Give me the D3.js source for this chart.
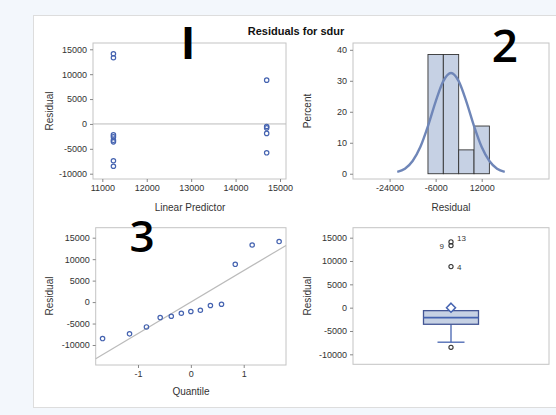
<!DOCTYPE html>
<html>
<head>
<meta charset="utf-8">
<script src="https://cdn.jsdelivr.net/npm/d3@7"></script>
<style>
  body { margin: 0; background: #f3f7fc; }
  svg { display: block; font-family: "Liberation Sans", Arial, sans-serif; }
  .tick text { font-size: 9px; fill: #333; }
  .tick line { stroke: #888; }
  .domain { display: none; }
</style>
</head>
<body>
<svg id="chart" width="556" height="415"></svg>
<script>
var obsId     = [1, 2, 3, 4, 5, 6, 7, 8, 9, 10, 11, 12, 13];
var predicted = [11250, 11250, 14700, 14700, 11250, 14700, 11250, 11250, 11250, 14700, 11250, 14700, 11250];
var residual  = [-2200, -3600, -500, 8800, -7400, -800, -2600, -8500, 13300, -1900, -3300, -5800, 14100];

// histogram bins (percent)
var binEdges = [-9000, -3000, 3000, 9000, 15000];
var binPct   = [38.5, 38.5, 7.7, 15.4];

// fitted normal curve
var curveX = [-21000, -18000, -15000, -12000, -9000, -6000, -3000, 0, 3000, 6000, 9000, 12000, 15000, 18000, 21000];
var curveY = [0.6, 1.6, 4.1, 8.6, 15.4, 23.3, 29.9, 32.5, 29.9, 23.3, 15.4, 8.6, 4.1, 1.6, 0.6];

// normal quantiles for the Q-Q plot and the reference line
var qqQuantile = [-1.67, -1.16, -0.84, -0.58, -0.37, -0.18, 0, 0.18, 0.37, 0.58, 0.84, 1.16, 1.67];
var qqLineX = [-1.8, 1.8];
var qqLineY = [-13200, 13200];

// box plot stats
var boxStats = { whiskerLo: -7400, q1: -3560, median: -2140, q3: -640, whiskerHi: -500, mean: 0 };
var outlierIds = [4, 9, 13];

// tick labels
var residTicks = [-10000, -5000, 0, 5000, 10000, 15000];
var predTicks = [11000, 12000, 13000, 14000, 15000];
var pctTicks = [0, 10, 20, 30, 40];
var histTicks = [-24000, -6000, 12000];
var qqTicks = [-1, 0, 1];

var svg = d3.select('#chart');
var blue = '#4563b0';
var fillBlue = '#c6d1e4';
var plain = function (d) { return String(d); }; // hyphen minus like SAS

// white panel
svg.append('rect').attr('x', 33.5).attr('y', 15.5).attr('width', 540).attr('height', 392)
    .attr('fill', '#fff').attr('stroke', '#ddd');

svg.append('text').attr('x', 296).attr('y', 35).attr('text-anchor', 'middle')
    .attr('font-size', 11).attr('font-weight', 'bold').attr('fill', '#111')
    .text('Residuals for sdur');

function frame(x0, y0, x1, y1) {
    svg.append('rect').attr('x', x0).attr('y', y0).attr('width', x1 - x0).attr('height', y1 - y0)
        .attr('fill', 'none').attr('stroke', '#c4c4c4');
}

function axes(x, y, xt, yt) {
    var yr = y.range(), xr = x.range();
    if (xt) {
        svg.append('g').attr('transform', 'translate(0,' + yr[0] + ')')
            .call(d3.axisBottom(x).tickValues(xt).tickSize(3).tickPadding(3).tickFormat(plain));
    }
    svg.append('g').attr('transform', 'translate(' + xr[0] + ',0)')
        .call(d3.axisLeft(y).tickValues(yt).tickSize(3).tickPadding(3).tickFormat(plain));
}

function label(txt, x, y, rot) {
    var t = svg.append('text').attr('text-anchor', 'middle').attr('font-size', 10).attr('fill', '#333').text(txt);
    if (rot) t.attr('transform', 'translate(' + x + ',' + y + ') rotate(-90)');
    else t.attr('x', x).attr('y', y);
}

function circles(xs, ys, fx, fy, color) {
    svg.append('g').selectAll('circle').data(xs).join('circle')
        .attr('cx', function (d) { return fx(d); })
        .attr('cy', function (d, i) { return fy(ys[i]); })
        .attr('r', 2.2).attr('fill', 'none').attr('stroke', color).attr('stroke-width', 1.2);
}

// ---- 1: residual vs linear predictor
var x1 = d3.scaleLinear().domain([10790, 15135]).range([93, 286]);
var y1 = d3.scaleLinear().domain([-11065, 16265]).range([179, 43]);
frame(93, 43, 286, 179);
svg.append('line').attr('x1', 93).attr('x2', 286).attr('y1', y1(0)).attr('y2', y1(0))
    .attr('stroke', '#bbb');
circles(predicted, residual, x1, y1, blue);
axes(x1, y1, predTicks, residTicks);
label('Residual', 53, 111, true);
label('Linear Predictor', 190, 211);

// ---- 2: histogram
var x2 = d3.scaleLinear().domain([-38300, 38300]).range([353, 549]);
var y2 = d3.scaleLinear().domain([-1.7, 42.2]).range([179, 43]);
frame(353, 43, 549, 179);
svg.append('g').selectAll('rect').data(binPct).join('rect')
    .attr('x', function (d, i) { return x2(binEdges[i]); })
    .attr('width', function (d, i) { return x2(binEdges[i + 1]) - x2(binEdges[i]); })
    .attr('y', function (d) { return y2(d); })
    .attr('height', function (d) { return y2(0) - y2(d); })
    .attr('fill', fillBlue).attr('stroke', '#333').attr('stroke-width', 0.9);
var curveLine = d3.line()
    .x(function (d) { return x2(d); })
    .y(function (d, i) { return y2(curveY[i]); })
    .curve(d3.curveMonotoneX);
svg.append('path').attr('d', curveLine(curveX)).attr('fill', 'none')
    .attr('stroke', '#6f86b8').attr('stroke-width', 2.4);
axes(x2, y2, histTicks, pctTicks);
label('Percent', 311, 111, true);
label('Residual', 451, 211);

// ---- 3: Q-Q plot
var x3 = d3.scaleLinear().domain([-1.8, 1.8]).range([95.7, 286]);
var y3 = d3.scaleLinear().domain([-14660, 17330]).range([365, 227.7]);
frame(95.7, 227.7, 286, 365);
svg.append('line').attr('x1', x3(qqLineX[0])).attr('x2', x3(qqLineX[1]))
    .attr('y1', y3(qqLineY[0])).attr('y2', y3(qqLineY[1])).attr('stroke', '#bbb').attr('stroke-width', 1.2);
var sorted = residual.slice().sort(d3.ascending);
circles(qqQuantile, sorted, x3, y3, blue);
axes(x3, y3, qqTicks, residTicks);
label('Residual', 53, 296, true);
label('Quantile', 191, 395);

// ---- 4: box plot
var x4 = d3.scaleLinear().domain([0, 1]).range([353, 549]);
var y4 = d3.scaleLinear().domain([-12140, 17140]).range([364.3, 227.7]);
frame(353, 227.7, 549, 364.3);
var cx = x4(0.5), bw = 55, cw = 27;
var box = svg.append('g').attr('stroke', blue).attr('stroke-width', 1.3);
box.append('line').attr('x1', cx).attr('x2', cx).attr('y1', y4(boxStats.q1)).attr('y2', y4(boxStats.whiskerLo));
box.append('line').attr('x1', cx - cw / 2).attr('x2', cx + cw / 2)
    .attr('y1', y4(boxStats.whiskerLo)).attr('y2', y4(boxStats.whiskerLo));
box.append('line').attr('x1', cx).attr('x2', cx).attr('y1', y4(boxStats.q3)).attr('y2', y4(boxStats.whiskerHi));
box.append('rect').attr('x', cx - bw / 2).attr('width', bw)
    .attr('y', y4(boxStats.q3)).attr('height', y4(boxStats.q1) - y4(boxStats.q3))
    .attr('fill', fillBlue).attr('stroke', '#445694');
box.append('line').attr('x1', cx - bw / 2).attr('x2', cx + bw / 2)
    .attr('y1', y4(boxStats.median)).attr('y2', y4(boxStats.median)).attr('stroke-width', 1.6);
var my = y4(boxStats.mean);
box.append('path').attr('d', 'M' + cx + ',' + (my - 4.5) + 'L' + (cx + 4.5) + ',' + my + 'L' + cx + ',' + (my + 4.5) + 'L' + (cx - 4.5) + ',' + my + 'Z')
    .attr('fill', '#fff').attr('stroke-width', 1.5);

// outliers beyond whiskers
var outs = residual.map(function (r, i) { return { r: r, id: obsId[i] }; })
    .filter(function (d) { return d.r < boxStats.whiskerLo || d.r > boxStats.q3 + 1.5 * (boxStats.q3 - boxStats.q1); });
svg.append('g').selectAll('circle').data(outs).join('circle')
    .attr('cx', cx).attr('cy', function (d) { return y4(d.r); }).attr('r', 2.1)
    .attr('fill', 'none').attr('stroke', '#333').attr('stroke-width', 1.1);
svg.append('g').selectAll('text').data(outs.filter(function (d) { return outlierIds.indexOf(d.id) >= 0; })).join('text')
    .attr('x', function (d) { return d.id === 9 ? cx - 7 : cx + 6; })
    .attr('y', function (d) { return y4(d.r) + (d.id === 13 ? -1 : 3); })
    .attr('text-anchor', function (d) { return d.id === 9 ? 'end' : 'start'; })
    .attr('font-size', 8).attr('fill', '#333')
    .text(function (d) { return d.id; });
axes(x4, y4, null, residTicks);
label('Residual', 311, 296, true);

// big panel numbers
var big = svg.append('g').attr('font-family', '"Open Sans", "Noto Sans", sans-serif').attr('fill', '#000');
big.append('text').attr('x', 188).attr('y', 59).attr('text-anchor', 'middle')
    .attr('font-size', 44).attr('font-weight', 'bold').text('I');
big.append('text').attr('x', 505).attr('y', 62).attr('text-anchor', 'middle')
    .attr('font-size', 46).attr('font-weight', 600).text('2');
big.append('text').attr('x', 142).attr('y', 252).attr('text-anchor', 'middle')
    .attr('font-size', 44).attr('font-weight', 600).text('3');
</script>
</body>
</html>
